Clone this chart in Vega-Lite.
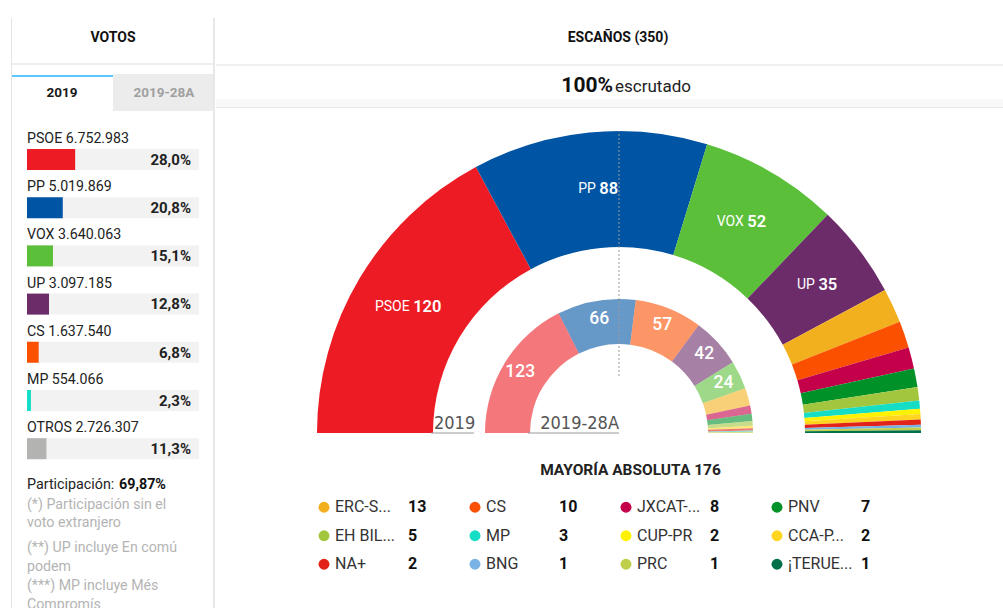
{
  "$schema": "https://vega.github.io/schema/vega-lite/v6.json",
  "padding": {"left": 10, "top": 17, "right": 0, "bottom": 0},
  "background": "#ffffff",
  "spacing": 0,
  "config": {
    "font": "Roboto",
    "view": {"stroke": null},
    "axis": {"disable": true},
    "legend": {"disable": true},
    "concat": {"spacing": 0},
    "locale": {"number": {"decimal": ",", "thousands": ".", "grouping": [3], "currency": ["", " €"]}}
  },
  "datasets": {
    "votes": [
      {"name": "PSOE", "votes": 6752983, "pct": 0.280},
      {"name": "PP", "votes": 5019869, "pct": 0.208},
      {"name": "VOX", "votes": 3640063, "pct": 0.151},
      {"name": "UP", "votes": 3097185, "pct": 0.128},
      {"name": "CS", "votes": 1637540, "pct": 0.068},
      {"name": "MP", "votes": 554066, "pct": 0.023},
      {"name": "OTROS", "votes": 2726307, "pct": 0.113}
    ],
    "outer": [
      {"name": "PSOE", "seats": 120, "i": 1},
      {"name": "PP", "seats": 88, "i": 2},
      {"name": "VOX", "seats": 52, "i": 3},
      {"name": "UP", "seats": 35, "i": 4},
      {"name": "ERC-SOBIRANISTES", "seats": 13, "i": 5},
      {"name": "CS", "seats": 10, "i": 6},
      {"name": "JXCAT-JUNTS", "seats": 8, "i": 7},
      {"name": "PNV", "seats": 7, "i": 8},
      {"name": "EH BILDU", "seats": 5, "i": 9},
      {"name": "MP", "seats": 3, "i": 10},
      {"name": "CUP-PR", "seats": 2, "i": 11},
      {"name": "CCA-PNC-NC", "seats": 2, "i": 12},
      {"name": "NA+", "seats": 2, "i": 13},
      {"name": "BNG", "seats": 1, "i": 14},
      {"name": "PRC", "seats": 1, "i": 15},
      {"name": "¡TERUEL EXISTE!", "seats": 1, "i": 16}
    ],
    "inner": [
      {"name": "PSOE", "seats": 123, "i": 1},
      {"name": "PP", "seats": 66, "i": 2},
      {"name": "CS", "seats": 57, "i": 3},
      {"name": "UP", "seats": 42, "i": 4},
      {"name": "VOX", "seats": 24, "i": 5},
      {"name": "ERC-SOBIRANISTES", "seats": 15, "i": 6},
      {"name": "JXCAT-JUNTS", "seats": 7, "i": 7},
      {"name": "PNV", "seats": 6, "i": 8},
      {"name": "EH BILDU", "seats": 4, "i": 9},
      {"name": "CCA-PNC-NC", "seats": 2, "i": 10},
      {"name": "NA+", "seats": 2, "i": 11},
      {"name": "COMPROMÍS", "seats": 1, "i": 12},
      {"name": "PRC", "seats": 1, "i": 13}
    ]
  },
  "hconcat": [
    {
      "spacing": 0,
      "bounds": "flush",
      "vconcat": [
        {
          "width": 204,
          "height": 93,
          "layer": [
            {
              "data": {"values": [{}]},
              "mark": {"type": "bar", "color": "#ececec"},
              "encoding": {
                "x": {"datum": "2019-28A", "type": "nominal", "scale": {"domain": ["2019", "2019-28A"], "paddingInner": 0, "paddingOuter": 0}},
                "y": {"datum": 0.602, "type": "quantitative", "scale": {"domain": [0, 1], "reverse": true, "nice": false, "zero": false}},
                "y2": {"datum": 1}
              }
            },
            {
              "data": {"values": [{}]},
              "mark": {"type": "bar", "color": "#5ac8fa"},
              "encoding": {
                "x": {"datum": "2019", "type": "nominal"},
                "y": {"datum": 0.613, "type": "quantitative"},
                "y2": {"datum": 0.634}
              }
            },
            {
              "data": {"values": [{}]},
              "mark": {"type": "rule", "color": "#efefef", "strokeWidth": 2},
              "encoding": {"y": {"datum": 0.495, "type": "quantitative"}}
            },
            {
              "data": {"values": [{}]},
              "mark": {"type": "text", "text": "VOTOS", "fontWeight": "bold", "fontSize": 14, "color": "#111111", "baseline": "middle"},
              "encoding": {"y": {"datum": 0.215, "type": "quantitative"}}
            },
            {
              "data": {"values": [{"tab": "2019"}, {"tab": "2019-28A"}]},
              "mark": {"type": "text", "fontWeight": "bold", "fontSize": 13.5, "baseline": "middle"},
              "encoding": {
                "x": {"field": "tab", "type": "nominal"},
                "y": {"datum": 0.81, "type": "quantitative"},
                "text": {"field": "tab"},
                "color": {"condition": {"test": "datum.tab === '2019'", "value": "#1a1a1a"}, "value": "#a0a0a0"}
              }
            },
            {
              "data": {"values": [{}]},
              "mark": {"type": "rule", "color": "#e4e4e4", "strokeWidth": 1, "xOffset": 0.5},
              "encoding": {"x": {"datum": "2019", "type": "nominal", "bandPosition": 0}}
            },
            {
              "data": {"values": [{}]},
              "mark": {"type": "rule", "color": "#e8e8e8", "strokeWidth": 2, "xOffset": -1},
              "encoding": {"x": {"datum": "2019-28A", "type": "nominal", "bandPosition": 1}}
            }
          ]
        },
        {
          "width": 204,
          "height": 498,
          "layer": [
            {
              "data": {"name": "votes"},
              "mark": {"type": "bar", "color": "#f2f2f2", "size": 21, "yOffset": 8.4},
              "encoding": {
                "y": {"field": "name", "type": "nominal", "sort": null, "scale": {"domain": ["PSOE", "PP", "VOX", "UP", "CS", "MP", "OTROS"], "range": [16, 353.4], "paddingInner": 0, "paddingOuter": 0}},
                "x": {"datum": 0, "type": "quantitative", "scale": {"domain": [-0.093023, 1.093023], "nice": false, "zero": false}},
                "x2": {"datum": 1}
              }
            },
            {
              "data": {"name": "votes"},
              "mark": {"type": "bar", "size": 21, "yOffset": 8.4},
              "encoding": {
                "y": {"field": "name", "type": "nominal", "sort": null},
                "x": {"field": "pct", "type": "quantitative"},
                "x2": {"datum": 0},
                "color": {
                  "field": "name", "type": "nominal", "legend": null,
                  "scale": {
                    "domain": ["PSOE", "PP", "VOX", "UP", "ERC-SOBIRANISTES", "CS", "JXCAT-JUNTS", "PNV", "EH BILDU", "MP", "CUP-PR", "CCA-PNC-NC", "NA+", "BNG", "PRC", "¡TERUEL EXISTE!", "COMPROMÍS", "OTROS"],
                    "range": ["#ED1C24", "#0054A4", "#5BBF3A", "#6B2C69", "#F2B01E", "#FA5000", "#C30049", "#009129", "#A2C73F", "#15DDC6", "#FFF200", "#FFD520", "#E2231A", "#79B3E6", "#BFCF4A", "#00704A", "#3FC6BC", "#B3B3B1"]
                  }
                }
              }
            },
            {
              "data": {"name": "votes"},
              "mark": {"type": "text", "align": "left", "baseline": "middle", "fontSize": 14.2, "color": "#222222", "yOffset": -12.1},
              "encoding": {
                "y": {"field": "name", "type": "nominal", "sort": null},
                "x": {"datum": 0, "type": "quantitative"},
                "text": {"value": {"expr": "datum.name + ' ' + format(datum.votes, ',d')"}}
              }
            },
            {
              "data": {"name": "votes"},
              "mark": {"type": "text", "align": "right", "baseline": "middle", "fontSize": 15, "fontWeight": "bold", "color": "#222222", "yOffset": 8.6, "xOffset": -8},
              "encoding": {
                "y": {"field": "name", "type": "nominal", "sort": null},
                "x": {"datum": 1, "type": "quantitative"},
                "text": {"field": "pct", "type": "quantitative", "format": ".1%"}
              }
            },
            {
              "data": {"values": [{}]},
              "mark": {"type": "text", "text": "Participación:", "align": "left", "baseline": "alphabetic", "fontSize": 14.3, "color": "#222222", "yOffset": 128.5},
              "encoding": {"x": {"datum": 0, "type": "quantitative"}}
            },
            {
              "data": {"values": [{}]},
              "mark": {"type": "text", "text": "69,87%", "align": "left", "baseline": "alphabetic", "fontSize": 14.3, "fontWeight": "bold", "color": "#111111", "yOffset": 128.5, "dx": 92},
              "encoding": {"x": {"datum": 0, "type": "quantitative"}}
            },
            {
              "data": {"values": [{}]},
              "mark": {"type": "text", "text": ["(*) Participación sin el", "voto extranjero"], "lineHeight": 18.5, "align": "left", "baseline": "alphabetic", "fontSize": 14.2, "color": "#b4b4b4", "yOffset": 148.5},
              "encoding": {"x": {"datum": 0, "type": "quantitative"}}
            },
            {
              "data": {"values": [{}]},
              "mark": {"type": "text", "text": ["(**) UP incluye En comú", "podem", "(***) MP incluye Més", "Compromís"], "lineHeight": 19, "align": "left", "baseline": "alphabetic", "fontSize": 14.2, "color": "#b4b4b4", "yOffset": 191.5},
              "encoding": {"x": {"datum": 0, "type": "quantitative"}}
            },
            {
              "data": {"values": [{}]},
              "mark": {"type": "rule", "color": "#e4e4e4", "strokeWidth": 1, "xOffset": 0.5},
              "encoding": {"x": {"datum": -0.093023, "type": "quantitative"}}
            },
            {
              "data": {"values": [{}]},
              "mark": {"type": "rule", "color": "#e8e8e8", "strokeWidth": 2, "xOffset": 0},
              "encoding": {"x": {"datum": 1.08721, "type": "quantitative"}}
            }
          ]
        }
      ]
    },
    {
      "spacing": 0,
      "bounds": "flush",
      "vconcat": [
        {
          "width": 789,
          "height": 46,
          "data": {"values": [{}]},
          "mark": {"type": "text", "text": "ESCAÑOS (350)", "fontWeight": "bold", "fontSize": 14, "color": "#111111", "xOffset": 7.5, "yOffset": -3, "baseline": "middle"}
        },
        {
          "width": 789,
          "height": 44,
          "data": {"values": [{}]},
          "layer": [
            {
              "mark": {"type": "bar", "color": "#f0f0f0"},
              "encoding": {
                "x": {"datum": 0, "type": "quantitative", "scale": {"domain": [0, 1], "nice": false, "zero": false}},
                "x2": {"datum": 1},
                "y": {"datum": 0, "type": "quantitative", "scale": {"domain": [0, 1], "reverse": true, "nice": false, "zero": false}},
                "y2": {"datum": 0.045}
              }
            },
            {
              "mark": {"type": "bar", "color": "#f8f8f8"},
              "encoding": {
                "x": {"datum": 0, "type": "quantitative"},
                "x2": {"datum": 1},
                "y": {"datum": 0.795, "type": "quantitative"},
                "y2": {"datum": 0.977}
              }
            },
            {
              "mark": {"type": "bar", "color": "#e8e8e8"},
              "encoding": {
                "x": {"datum": 0, "type": "quantitative"},
                "x2": {"datum": 1},
                "y": {"datum": 0.977, "type": "quantitative"},
                "y2": {"datum": 1}
              }
            },
            {"mark": {"type": "text", "text": "100%", "fontWeight": "bold", "fontSize": 21, "color": "#111111", "align": "right", "baseline": "middle", "xOffset": 2.5}},
            {"mark": {"type": "text", "text": "escrutado", "fontSize": 17, "color": "#222222", "align": "left", "baseline": "middle", "xOffset": 4.5, "yOffset": 1}}
          ]
        },
        {
          "width": 789,
          "height": 325,
          "layer": [
            {
              "data": {"name": "outer"},
              "mark": {"type": "arc", "radius": 302, "radius2": 186},
              "encoding": {
                "x": {"datum": 0, "type": "quantitative", "scale": {"domain": [-1.33444, 1.27815], "nice": false, "zero": false}},
                "y": {"datum": 0, "type": "quantitative", "scale": {"domain": [0, 1.07616], "nice": false, "zero": false}},
                "theta": {"field": "seats", "type": "quantitative", "stack": true, "scale": {"domain": [0, 350], "range": [-1.5707963, 1.5707963]}},
                "order": {"field": "i", "type": "quantitative"},
                "color": {
                  "field": "name", "type": "nominal", "legend": null,
                  "scale": {
                    "domain": ["PSOE", "PP", "VOX", "UP", "ERC-SOBIRANISTES", "CS", "JXCAT-JUNTS", "PNV", "EH BILDU", "MP", "CUP-PR", "CCA-PNC-NC", "NA+", "BNG", "PRC", "¡TERUEL EXISTE!", "COMPROMÍS", "OTROS"],
                    "range": ["#ED1C24", "#0054A4", "#5BBF3A", "#6B2C69", "#F2B01E", "#FA5000", "#C30049", "#009129", "#A2C73F", "#15DDC6", "#FFF200", "#FFD520", "#E2231A", "#79B3E6", "#BFCF4A", "#00704A", "#3FC6BC", "#B3B3B1"]
                  }
                }
              }
            },
            {
              "data": {"name": "inner"},
              "mark": {"type": "arc", "radius": 134, "radius2": 89, "opacity": 0.6},
              "encoding": {
                "x": {"datum": 0, "type": "quantitative"},
                "y": {"datum": 0, "type": "quantitative"},
                "theta": {"field": "seats", "type": "quantitative", "stack": true},
                "order": {"field": "i", "type": "quantitative"},
                "color": {"field": "name", "type": "nominal", "legend": null}
              }
            },
            {
              "data": {"name": "outer"},
              "mark": {"type": "text", "radius": 245, "align": "right", "baseline": "middle", "dx": 1, "fontSize": 14, "color": "#ffffff"},
              "encoding": {
                "x": {"datum": 0, "type": "quantitative"},
                "y": {"datum": 0, "type": "quantitative"},
                "theta": {"field": "seats", "type": "quantitative", "stack": true},
                "order": {"field": "i", "type": "quantitative"},
                "text": {"condition": {"test": "datum.seats >= 30", "field": "name"}, "value": ""}
              }
            },
            {
              "data": {"name": "outer"},
              "mark": {"type": "text", "radius": 245, "align": "left", "baseline": "middle", "dx": 4.5, "fontSize": 16.5, "fontWeight": 600, "color": "#ffffff"},
              "encoding": {
                "x": {"datum": 0, "type": "quantitative"},
                "y": {"datum": 0, "type": "quantitative"},
                "theta": {"field": "seats", "type": "quantitative", "stack": true},
                "order": {"field": "i", "type": "quantitative"},
                "text": {"condition": {"test": "datum.seats >= 30", "field": "seats"}, "value": ""}
              }
            },
            {
              "data": {"name": "inner"},
              "mark": {"type": "text", "radius": 116, "align": "center", "baseline": "middle", "fontSize": 17.5, "fontWeight": 500, "color": "#ffffff"},
              "encoding": {
                "x": {"datum": 0, "type": "quantitative"},
                "y": {"datum": 0, "type": "quantitative"},
                "theta": {"field": "seats", "type": "quantitative", "stack": true},
                "order": {"field": "i", "type": "quantitative"},
                "text": {"condition": {"test": "datum.seats >= 20", "field": "seats"}, "value": ""}
              }
            },
            {
              "data": {"values": [{}]},
              "mark": {"type": "rule", "color": "#9a9a9a", "strokeWidth": 1, "strokeDash": [2, 2]},
              "encoding": {
                "x": {"datum": 0, "type": "quantitative"},
                "y": {"datum": 0.1887, "type": "quantitative"},
                "y2": {"datum": 1.0}
              }
            },
            {
              "data": {"values": [{}]},
              "mark": {"type": "rule", "color": "#9a9a9a", "strokeWidth": 1},
              "encoding": {
                "x": {"datum": -0.6225, "type": "quantitative"},
                "x2": {"datum": -0.4801},
                "y": {"datum": 0, "type": "quantitative"}
              }
            },
            {
              "data": {"values": [{}]},
              "mark": {"type": "rule", "color": "#9a9a9a", "strokeWidth": 1},
              "encoding": {
                "x": {"datum": -0.3013, "type": "quantitative"},
                "x2": {"datum": 0},
                "y": {"datum": 0, "type": "quantitative"}
              }
            },
            {
              "data": {"values": [{}]},
              "mark": {"type": "text", "text": "2019", "align": "left", "baseline": "alphabetic", "dx": 1, "dy": -4, "fontSize": 18, "font": "Liberation Sans Narrow, DejaVu Sans Condensed, Roboto", "color": "#555555"},
              "encoding": {
                "x": {"datum": -0.6159, "type": "quantitative"},
                "y": {"datum": 0, "type": "quantitative"}
              }
            },
            {
              "data": {"values": [{}]},
              "mark": {"type": "text", "text": "2019-28A", "align": "right", "baseline": "alphabetic", "dx": 0, "dy": -4, "fontSize": 18, "font": "Liberation Sans Narrow, DejaVu Sans Condensed, Roboto", "color": "#555555"},
              "encoding": {
                "x": {"datum": 0, "type": "quantitative"},
                "y": {"datum": 0, "type": "quantitative"}
              }
            }
          ]
        },
        {
          "width": 789,
          "height": 59.75,
          "data": {"values": [{}]},
          "mark": {"type": "text", "text": "MAYORÍA ABSOLUTA 176", "fontWeight": "bold", "fontSize": 15.5, "color": "#222222", "xOffset": 20, "yOffset": 7.1, "baseline": "middle"}
        },
        {
          "width": 789,
          "height": 85.5,
          "data": {"name": "outer"},
          "resolve": {"scale": {"y": "independent"}},
          "layer": [
            {
              "transform": [{"filter": {"field": "name", "oneOf": ["ERC-SOBIRANISTES", "EH BILDU", "NA+"]}}],
              "encoding": {"y": {"field": "name", "type": "nominal", "sort": null, "scale": {"domain": ["ERC-SOBIRANISTES", "EH BILDU", "NA+"], "paddingInner": 0, "paddingOuter": 0}}},
              "layer": [
                {
                  "mark": {"type": "circle", "size": 120, "opacity": 1},
                  "encoding": {
                    "x": {"datum": 0.0397, "type": "quantitative", "scale": {"domain": [-0.6755, 4.5497], "nice": false, "zero": false}},
                    "color": {
                      "field": "name", "type": "nominal", "legend": null,
                      "scale": {
                        "domain": ["PSOE", "PP", "VOX", "UP", "ERC-SOBIRANISTES", "CS", "JXCAT-JUNTS", "PNV", "EH BILDU", "MP", "CUP-PR", "CCA-PNC-NC", "NA+", "BNG", "PRC", "¡TERUEL EXISTE!", "COMPROMÍS", "OTROS"],
                        "range": ["#ED1C24", "#0054A4", "#5BBF3A", "#6B2C69", "#F2B01E", "#FA5000", "#C30049", "#009129", "#A2C73F", "#15DDC6", "#FFF200", "#FFD520", "#E2231A", "#79B3E6", "#BFCF4A", "#00704A", "#3FC6BC", "#B3B3B1"]
                      }
                    }
                  }
                },
                {
                  "mark": {"type": "text", "align": "left", "baseline": "middle", "fontSize": 16, "color": "#333333", "limit": 66, "ellipsis": "..."},
                  "encoding": {"x": {"datum": 0.1126, "type": "quantitative"}, "text": {"field": "name"}}
                },
                {
                  "mark": {"type": "text", "align": "left", "baseline": "middle", "fontSize": 16, "fontWeight": "bold", "color": "#111111"},
                  "encoding": {"x": {"datum": 0.596, "type": "quantitative"}, "text": {"field": "seats"}}
                }
              ]
            },
            {
              "transform": [{"filter": {"field": "name", "oneOf": ["CS", "MP", "BNG"]}}],
              "encoding": {"y": {"field": "name", "type": "nominal", "sort": null, "scale": {"domain": ["CS", "MP", "BNG"], "paddingInner": 0, "paddingOuter": 0}}},
              "layer": [
                {
                  "mark": {"type": "circle", "size": 120, "opacity": 1},
                  "encoding": {"x": {"datum": 1.0397, "type": "quantitative"}, "color": {"field": "name", "type": "nominal", "legend": null}}
                },
                {
                  "mark": {"type": "text", "align": "left", "baseline": "middle", "fontSize": 16, "color": "#333333", "limit": 66, "ellipsis": "..."},
                  "encoding": {"x": {"datum": 1.1126, "type": "quantitative"}, "text": {"field": "name"}}
                },
                {
                  "mark": {"type": "text", "align": "left", "baseline": "middle", "fontSize": 16, "fontWeight": "bold", "color": "#111111"},
                  "encoding": {"x": {"datum": 1.596, "type": "quantitative"}, "text": {"field": "seats"}}
                }
              ]
            },
            {
              "transform": [{"filter": {"field": "name", "oneOf": ["JXCAT-JUNTS", "CUP-PR", "PRC"]}}],
              "encoding": {"y": {"field": "name", "type": "nominal", "sort": null, "scale": {"domain": ["JXCAT-JUNTS", "CUP-PR", "PRC"], "paddingInner": 0, "paddingOuter": 0}}},
              "layer": [
                {
                  "mark": {"type": "circle", "size": 120, "opacity": 1},
                  "encoding": {"x": {"datum": 2.0397, "type": "quantitative"}, "color": {"field": "name", "type": "nominal", "legend": null}}
                },
                {
                  "mark": {"type": "text", "align": "left", "baseline": "middle", "fontSize": 16, "color": "#333333", "limit": 66, "ellipsis": "..."},
                  "encoding": {"x": {"datum": 2.1126, "type": "quantitative"}, "text": {"field": "name"}}
                },
                {
                  "mark": {"type": "text", "align": "left", "baseline": "middle", "fontSize": 16, "fontWeight": "bold", "color": "#111111"},
                  "encoding": {"x": {"datum": 2.596, "type": "quantitative"}, "text": {"field": "seats"}}
                }
              ]
            },
            {
              "transform": [{"filter": {"field": "name", "oneOf": ["PNV", "CCA-PNC-NC", "¡TERUEL EXISTE!"]}}],
              "encoding": {"y": {"field": "name", "type": "nominal", "sort": null, "scale": {"domain": ["PNV", "CCA-PNC-NC", "¡TERUEL EXISTE!"], "paddingInner": 0, "paddingOuter": 0}}},
              "layer": [
                {
                  "mark": {"type": "circle", "size": 120, "opacity": 1},
                  "encoding": {"x": {"datum": 3.0397, "type": "quantitative"}, "color": {"field": "name", "type": "nominal", "legend": null}}
                },
                {
                  "mark": {"type": "text", "align": "left", "baseline": "middle", "fontSize": 16, "color": "#333333", "limit": 66, "ellipsis": "..."},
                  "encoding": {"x": {"datum": 3.1126, "type": "quantitative"}, "text": {"field": "name"}}
                },
                {
                  "mark": {"type": "text", "align": "left", "baseline": "middle", "fontSize": 16, "fontWeight": "bold", "color": "#111111"},
                  "encoding": {"x": {"datum": 3.596, "type": "quantitative"}, "text": {"field": "seats"}}
                }
              ]
            }
          ]
        }
      ]
    }
  ]
}
